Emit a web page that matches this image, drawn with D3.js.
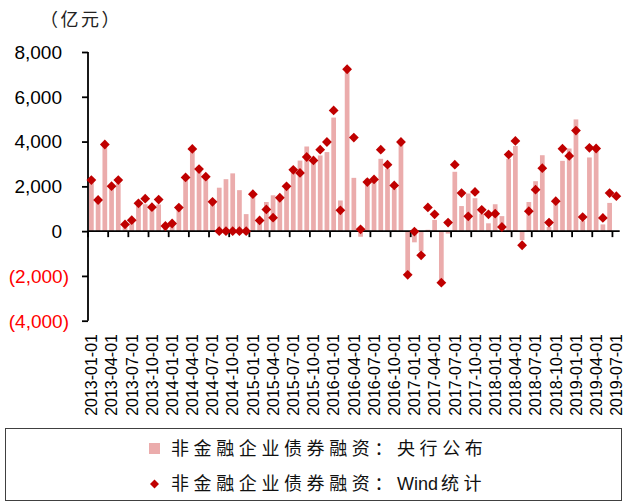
<!DOCTYPE html>
<html>
<head>
<meta charset="utf-8">
<script src="https://cdn.jsdelivr.net/npm/d3@7"></script>
<style>
  body { margin: 0; background: #fff; }
  svg { display: block; }
</style>
</head>
<body>
<svg id="chart" width="627" height="504"></svg>
<script>
// monthly categories 2013-01 .. 2019-07
var months = [];
for (var y = 2013; y <= 2019; y++) {
    for (var m = 1; m <= 12; m++) {
        if (y == 2019 && m > 7) break;
        months.push(y + '-' + (m < 10 ? '0' + m : m) + '-01');
    }
}

var tick_labels = ['2013-01-01','2013-04-01','2013-07-01','2013-10-01',
                   '2014-01-01','2014-04-01','2014-07-01','2014-10-01',
                   '2015-01-01','2015-04-01','2015-07-01','2015-10-01',
                   '2016-01-01','2016-04-01','2016-07-01','2016-10-01',
                   '2017-01-01','2017-04-01','2017-07-01','2017-10-01',
                   '2018-01-01','2018-04-01','2018-07-01','2018-10-01',
                   '2019-01-01','2019-04-01','2019-07-01'];

var y_ticks = [8000, 6000, 4000, 2000, 0, -2000, -4000];

// 非金融企业债券融资：央行公布 (bars)
var pboc = [2250, 1350, 3850, 2000, 2130, 330, 430, 1240, 1200, 1080, 1190, 260,
            220, 980, 2350, 3550, 2730, 2360, 1250, 1940, 2320, 2580, 1830, 760,
            1600, 550, 1300, 1600, 1500, 2050, 2850, 3150, 3780, 3230, 3380, 3530,
            5070, 1370, 7120, 2380, -250, 2340, 2190, 3230, 2790, 1890, 3900, -1850,
            -500, -900, 60, 500, -2200, -110, 2650, 1120, 1680, 1470, 780, 350,
            1200, 670, 3230, 3800, -400, 1300, 2230, 3390, 190, 1220, 3140, 3690,
            4990, 450, 3290, 3750, 300, 1260, null];

// 非金融企业债券融资：Wind统计 (diamonds)
var wind = [2280, 1390, 3870, 2010, 2280, 300, 490, 1240, 1450, 1070, 1410, 230,
            340, 1050, 2400, 3670, 2770, 2430, 1310, 0, 0, 0, 0, 0,
            1650, 480, 970, 600, 1490, 2000, 2740, 2600, 3310, 3160, 3640, 3980,
            5390, 930, 7230, 4180, 80, 2190, 2310, 3640, 2970, 2040, 3980, -1950,
            -20, -1080, 1060, 750, -2300, 380, 2970, 1700, 660, 1750, 950, 750,
            780, 185, 3420, 4030, -630, 890, 1850, 2810, 380, 1340, 3680, 3360,
            4490, 630, 3720, 3690, 590, 1700, 1560];

var BAR_COLOR = '#ebacac';
var DOT_COLOR = '#c00000';
var CJK = '"Noto Sans CJK SC", sans-serif';
var LATIN = '"Liberation Sans", Arial, sans-serif';

var svg = d3.select('#chart');

var x = d3.scaleBand()
    .domain(months)
    .range([88, 619.7])
    .paddingInner(0.3)
    .paddingOuter(0.15);

var y = d3.scaleLinear()
    .domain([-4000, 8000])
    .range([320.7, 52]);

// unit label
svg.append('text')
    .attr('x', 40).attr('y', 26)
    .style('font-family', CJK)
    .style('font-size', '18px')
    .style('letter-spacing', '2.5px')
    .style('fill', '#222')
    .text('（亿元）');

// bars
svg.append('g').selectAll('rect')
    .data(pboc.map(function(v, i) { return {m: months[i], v: v}; })
              .filter(function(d) { return d.v !== null; }))
    .enter().append('rect')
    .attr('x', function(d) { return x(d.m); })
    .attr('width', x.bandwidth())
    .attr('y', function(d) { return y(Math.max(0, d.v)); })
    .attr('height', function(d) { return Math.abs(y(d.v) - y(0)); })
    .style('fill', BAR_COLOR);

// y axis
var yAxis = svg.append('g')
    .attr('transform', 'translate(88,0)')
    .call(d3.axisLeft(y).tickValues(y_ticks).tickSize(6).tickFormat(''));
yAxis.selectAll('path, line').style('stroke', '#000').style('stroke-width', 1.8);
yAxis.select('.domain').attr('d', 'M0,' + y(8000) + 'V' + y(-4000));

svg.append('g').selectAll('text')
    .data(y_ticks)
    .enter().append('text')
    .attr('x', function(d) { return d < 0 ? 69 : 62; })
    .attr('y', function(d) { return y(d); })
    .attr('dy', '0.36em')
    .attr('text-anchor', 'end')
    .style('font-family', LATIN)
    .style('font-size', '19px')
    .style('fill', function(d) { return d < 0 ? '#ff0000' : '#000'; })
    .text(function(d) {
        var s = d3.format(',')(Math.abs(d));
        return d < 0 ? '(' + s + ')' : s;
    });

// x axis at zero
var step = x.step();
var x0 = x.range()[0];
var tickPos = d3.range(0, months.length + 1, 3).map(function(i) { return x0 + i * step * 0.999; });
var xg = svg.append('g');
xg.append('line')
    .attr('x1', x0).attr('x2', x.range()[1])
    .attr('y1', y(0)).attr('y2', y(0))
    .style('stroke', '#000').style('stroke-width', 1.8);
xg.selectAll('line.tick')
    .data(tickPos)
    .enter().append('line')
    .attr('class', 'tick')
    .attr('x1', function(d) { return d; }).attr('x2', function(d) { return d; })
    .attr('y1', y(0)).attr('y2', y(0) + 6)
    .style('stroke', '#000').style('stroke-width', 1.8);

// category labels, rotated
svg.append('g').selectAll('text')
    .data(tick_labels)
    .enter().append('text')
    .attr('transform', function(d) {
        return 'translate(' + (x(d) + x.bandwidth() / 2) + ',334) rotate(-90)';
    })
    .attr('dy', '0.36em')
    .attr('text-anchor', 'end')
    .style('font-family', LATIN)
    .style('font-size', '16px')
    .style('fill', '#000')
    .text(function(d) { return d; });

// diamonds
var diamond = d3.symbol().type(d3.symbolSquare).size(48);
svg.append('g').selectAll('path')
    .data(wind.map(function(v, i) { return {m: months[i], v: v}; }))
    .enter().append('path')
    .attr('d', diamond)
    .attr('transform', function(d) {
        return 'translate(' + (x(d.m) + x.bandwidth() / 2) + ',' + y(d.v) + ') rotate(45)';
    })
    .style('fill', DOT_COLOR);

// legend
var lg = svg.append('g');
lg.append('rect')
    .attr('x', 5.5).attr('y', 428.5)
    .attr('width', 616).attr('height', 72)
    .style('fill', '#fff')
    .style('stroke', '#404040')
    .style('stroke-width', 1);

lg.append('rect')
    .attr('x', 149).attr('y', 443)
    .attr('width', 11).attr('height', 11)
    .style('fill', BAR_COLOR);

lg.append('path')
    .attr('d', d3.symbol().type(d3.symbolSquare).size(40))
    .attr('transform', 'translate(154.5,484) rotate(45)')
    .style('fill', DOT_COLOR);

lg.append('text')
    .attr('x', 171).attr('y', 449)
    .attr('dy', '0.36em')
    .style('font-family', CJK)
    .style('font-size', '18px')
    .style('letter-spacing', '4.6px')
    .style('fill', '#111')
    .text('非金融企业债券融资：央行公布');

var t2 = lg.append('text')
    .attr('x', 171).attr('y', 484)
    .attr('dy', '0.36em')
    .style('font-family', CJK)
    .style('font-size', '18px')
    .style('fill', '#111');
t2.append('tspan').style('letter-spacing', '4.6px').text('非金融企业债券融资：');
t2.append('tspan').style('font-family', LATIN).text('Wind');
t2.append('tspan').attr('dx', 3).style('letter-spacing', '4.6px').text('统计');
</script>
</body>
</html>
